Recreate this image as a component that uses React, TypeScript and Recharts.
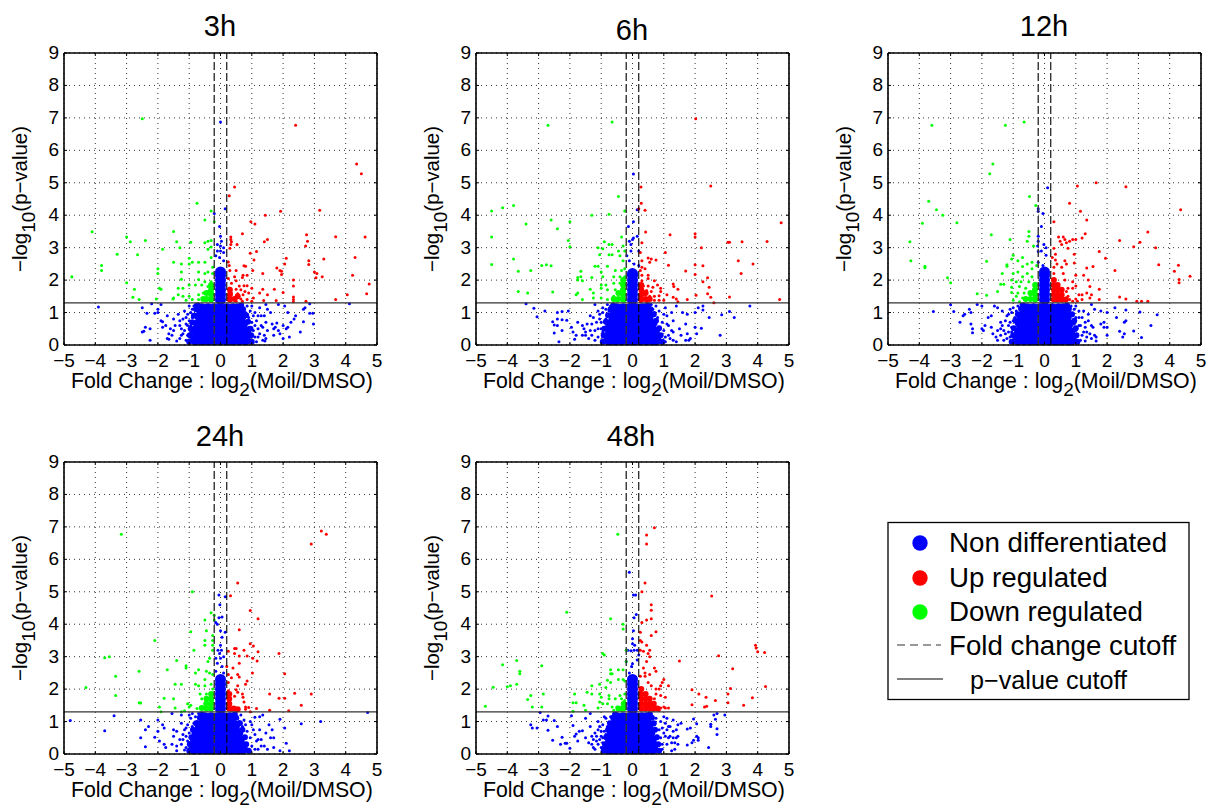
import React from "react";
import { ScatterChart, Scatter, XAxis, YAxis, CartesianGrid, ReferenceLine } from "recharts";

const FONT = "'Liberation Sans', Arial, sans-serif";
const xTicks = [-5, -4, -3, -2, -1, 0, 1, 2, 3, 4, 5];
const yTicks = [0, 1, 2, 3, 4, 5, 6, 7, 8, 9];
const foldCutoff = 0.2;
const pCutoff = 1.3;

const up3h = [2.4,6.77,4.35,5.58,4.5,5.28,.45,4.87,.28,4.6,3.17,4.15,1.92,4.12,1.43,4,.97,3.8,1.1,3.73,.7,3.43,2.75,3.4,3.68,3.34,4.62,3.33,.33,3.33,.33,3.25,.35,3.18,.33,3.1,1.5,3.25,1.4,3.18,2.78,3.2,.53,3.1,.3,2.98,2.72,3.05,1.15,2.88,.95,2.83,2.1,2.67,1.07,2.62,3.3,2.65,4.3,2.7,2.82,2.6,2.82,2.48,2.05,2.5,.25,2.56,.28,2.45,.75,2.44,.8,2.43,1.8,2.37,1.9,2.3,1.95,2.27,1.03,2.3,.5,2.3,.3,2.3,3,2.25,3.08,2.2,1.35,2.2,1.95,2.17,.72,2.15,.85,2.15,3.25,2.1,3.05,2.07,4.22,2.15,.45,2.1,.7,2.08,.25,2.05,2.33,2,.5,1.98,4.75,1.88,.35,1.9,.6,1.82,.75,1.83,.85,1.83,2.33,1.82,1,1.75,1.35,1.72,1.72,1.72,.3,1.75,.5,1.72,.65,1.7,.78,1.65,2,1.62,4.67,1.58,4.05,1.55,1.5,1.55,1.25,1.6,.35,1.6,.55,1.58,.72,1.55,.9,1.6,1.05,1.45,2.33,1.48,2.33,1.4,3.68,1.4,1.78,1.37,2.73,1.35,1.38,1.37,.25,1.45,.45,1.45,.65,1.42,.3,1.35,.5,1.35,.7,1.35,.85,1.4,1,1.35,2.33,1.33];
const down3h = [-2.5,6.97,-.75,4.37,-.3,4.13,-.2,3.8,-.5,3.85,-4.1,3.49,-1.5,3.5,-3,3.33,-2.4,3.22,-2.88,3.18,-1.4,3.18,-.95,3.17,-.4,3.2,-.3,3.22,-.5,3.15,-1.3,3,-.3,3.02,-.4,2.95,-1.85,2.95,-3.3,2.8,-2.65,2.78,-1,2.67,-3.8,2.45,-3.8,2.3,-4.75,2.1,-1.5,2.55,-1.25,2.5,-1,2.5,-.9,2.55,-.7,2.55,-.5,2.55,-.3,2.7,-.25,2.4,-2,2.35,-2,2.2,-1.25,2.25,-.7,2.25,-.5,2.2,-.4,2.25,-.25,2.2,-1.25,2.03,-.7,2.02,-.5,1.95,-.3,1.95,-3,1.92,-1.35,1.75,-1.2,1.75,-1,1.85,-.8,1.85,-.6,1.85,-.4,1.8,-.25,1.8,-1.95,1.75,-1.9,1.72,-2.75,1.72,-1.5,1.45,-2.8,1.47,-2.6,1.4,-2.05,1.42,-1.52,1.42,-1.35,1.55,-1.2,1.5,-1,1.5,-1.1,1.38,-.9,1.4,-.7,1.55,-.55,1.6,-.4,1.65,-.25,1.6,-.7,1.4,-.5,1.4,-.35,1.45,-.25,1.4];
const none3h = [0,6.87,-.2,4.05,.15,4.2,-.03,3.65,0,3.35,.03,3.2,-.1,3.1,0,3.05,.1,3,-.1,2.9,0,2.9,.1,2.85,-.15,2.75,-.03,2.7,.1,2.6,-3.9,1.17,4.12,1.27,2.85,1.27,-2.5,1.15,-2.2,1.27,-1.9,1.25,-2,1.1,-2.35,.98,-2.1,.98,-2,1,-1.7,.9,-1.9,.75,-2.45,.42,-2.5,.4,-2.4,.55,-2.25,.5,-2.25,.15,-1.85,.72,-1.85,.55,-1.7,.2,-1.65,.18,-1.5,.45,-1.55,.3,-1.45,.6,-1.5,.8,-1.35,.95,-1.3,.75,-1.25,.5,-1.3,.2,-1.4,.12,-1.2,.35,-1.15,1.05,-1.1,.85,-1.05,.6,-1,1.2,-1,.3,-.95,.15,-.9,1.1,1,1.2,1.1,1,1.15,.75,1.2,.5,1.2,.25,1.25,1.15,1.3,.9,1.35,.55,1.4,.3,1.45,1.25,1.42,.12,1.5,1.1,1.45,.7,1.5,.45,1.45,.2,1.6,1,1.4,.9,1.65,.65,1.7,.5,1.7,.3,1.8,.68,1.75,.55,1.85,.45,1.85,1.25,1.9,.35,2,.2,2.05,1.2,2,.6,2.1,.5,2.15,.55,2.15,1,2.25,.7,2.2,.25,2.4,.9,2.35,.8,2.55,.4,2.65,1.1,2.7,1.15,2.65,.72,2.85,.98,2.95,.98,2.97,.65];
const fringe3h = [-1.3,.6,-1.25,.3,-1.2,.8,-1.15,.45,-1.1,.15,-1.1,.65,-1.05,.95,-1.05,.3,-1,.5,-1,.75,-.95,1,-.95,.6,-.95,.4,-.9,.25,-.9,.85,-.85,.12,-.85,1.2,-.85,.55,-.8,.95,-.8,1.25,-.75,1.15,-.7,1.25,-1.6,.5,-1.65,.35,-1.75,.6,.7,1.25,.75,1.1,.8,1,.85,1.2,.85,.7,.9,.85,.9,.55,.95,1.05,.95,.3,1,.7,1,.12,1.05,.45,1.05,.9,1.1,.25,1.1,.6,1.15,.1,1.2,.9,1.25,.35,1.3,.6,1.35,.15];
const dense3h = [-.8,.16,-.6,.16,-.4,.16,-.2,.16,0,.16,.2,.16,.4,.16,.6,.16,.8,.16,-.75,.4,-.55,.4,-.35,.4,-.15,.4,.05,.4,.25,.4,.45,.4,.65,.4,.8,.4,-.7,.64,-.5,.64,-.3,.64,-.1,.64,.1,.64,.3,.64,.5,.64,.7,.64,-.65,.88,-.45,.88,-.25,.88,-.05,.88,.15,.88,.35,.88,.55,.88,.65,.88,-.6,1.12,-.4,1.12,-.2,1.12,0,1.12,.2,1.12,.4,1.12,.55,1.12,0,1.4,0,1.55,0,1.7,0,1.85,0,2,0,2.15,0,2.25];
const edge3h = [-1,.1,-.98,.3,-.95,.5,-.9,.7,-.85,.9,-.78,1.1,-.72,1.22,1,.1,.98,.3,.96,.5,.88,.72,.82,.92,.72,1.1,.66,1.22];
const denseUp3h = [.3,1.4,.3,1.55,.3,1.7,.45,1.42,.55,1.5];
const denseDown3h = [-.3,1.4,-.3,1.55,-.3,1.7,-.3,1.85,-.45,1.42,-.45,1.6,-.55,1.42];

const up6h = [2.02,6.97,2.5,4.9,.27,4.87,.28,4.37,.2,4.2,.4,4.15,4.75,3.77,.42,3.48,1.2,3.4,2,3.43,2,3.33,3.05,3.17,3.1,3.17,3.5,3.18,4.3,3.19,.3,3.15,2.2,3,1.05,2.85,.25,2.85,.5,2.68,.6,2.65,.75,2.62,.55,2.55,.3,2.6,3.38,2.6,3.85,2.5,2,2.47,2.25,2.44,1.15,2.46,.3,2.4,.4,2.35,.25,2.3,1.7,2.28,3.47,2.2,2,2.17,.5,2.15,.3,2.15,.5,2.05,2.4,2.07,.7,1.98,.3,1.98,.8,1.85,1.3,1.88,1.32,1.8,2.25,1.95,.35,1.82,.5,1.82,.65,1.78,.9,1.75,1.45,1.72,.3,1.68,.45,1.68,.6,1.65,.9,1.65,2.45,1.78,2.4,1.58,2.03,1.53,.25,1.55,.4,1.55,.55,1.5,.7,1.5,.85,1.52,1.1,1.55,3.1,1.48,2.5,1.47,1.3,1.47,1.4,1.42,.3,1.4,.5,1.38,.7,1.38,.85,1.38,.25,1.33,.45,1.33,1,1.38,1.45,1.33,1.75,1.4,2.6,1.3,4.7,1.4];
const down6h = [-2.7,6.77,-.65,6.87,-.45,4.58,-3.8,4.3,-4.15,4.23,-4.5,4.13,-.25,4.13,-1.3,4,-.75,4.03,-2.6,3.85,-2,3.8,-3.4,3.73,-2.4,3.58,-4.5,3.33,-.35,3.33,-2.05,3.22,-.9,3.18,-.75,3.1,-.65,3.1,-1.1,3,-.95,2.97,-2,3.03,-.3,3.05,-.25,2.9,-.45,2.9,-3.8,2.65,-4.5,2.48,-2.9,2.45,-2.75,2.47,-2.6,2.44,-1.05,2.78,-.75,2.78,-.65,2.78,-.4,2.75,-1.2,2.43,-1.1,2.43,-.8,2.43,-.3,2.6,-3.65,2.27,-3.25,2.3,-1.65,2.27,-1.3,2.08,-1,2.25,-.55,2.3,-.35,2.3,-.25,2.35,-1.75,2.08,-1.65,2.1,-1.6,1.98,-1.75,2,-.95,2.1,-.6,2.1,-.4,2.1,-.25,2.1,-1,1.85,-.85,1.85,-.6,1.9,-.4,1.9,-.25,1.9,-1,1.75,-.8,1.7,-.55,1.7,-.35,1.7,-.25,1.65,-1.35,1.72,-1.25,1.6,-3.65,1.65,-3.35,1.6,-2.55,1.63,-1.8,1.55,-1.75,1.6,-1.6,1.4,-1.25,1.45,-1,1.45,-.8,1.4,-.6,1.5,-.45,1.45,-.3,1.5,-.25,1.35,-.5,1.35];
const none6h = [.03,5.27,.03,3.8,-.13,3.65,.15,3.35,.15,4.17,0,3.25,-.1,3.2,-.05,3.1,.03,3.3,.2,2.9,-.05,2.9,-.18,2.75,-.1,2.6,.05,2.5,.2,2.45,-3.4,1.27,-3.15,1.13,-3.05,.87,-2.8,1.05,-2.4,1,-2.25,1.03,-2.05,1.05,-2.55,.72,-2.4,.8,-2.4,.6,-2.5,.62,-2.25,.78,-2.1,.76,-2.5,.37,-2.35,.1,-2.25,.45,-1.95,.55,-1.9,.4,-1.8,.3,-1.85,.18,-1.75,.7,-1.6,.6,-1.5,.4,-1.5,.3,-1.35,.9,-1.3,.65,-1.2,1.25,-1.2,.45,-1.2,.15,-1.1,1.05,-1.05,.8,-1,.5,-.95,.25,-.95,1.15,1.05,1.15,1.05,.1,1.1,.9,1.15,.6,1.15,.3,1.25,1,1.3,.75,1.3,.4,1.3,.15,1.4,1.2,1.4,.1,1.5,.5,1.55,.3,1.6,1,1.7,.65,1.7,.15,1.75,.95,1.75,.35,1.85,.2,1.8,.15,2,.55,2.05,.35,2,1,2.1,1.15,2.25,1.2,2.25,1.08,2.2,.52,2.45,.85,2.8,.3,2.85,.93,3.1,1.03,3.25,.85,3.75,1.2];
const fringe6h = [-1.6,.3,-1.55,.5,-1.45,.65,-1.4,.2,-1.35,.45,-1.3,.3,-1.25,.85,-1.15,.7,-1.1,.25,-1.1,.5,-1.05,.95,-1,.7,-.95,.4,-.95,1,-.9,.12,-.9,.55,-.85,.8,-.85,1.1,-.85,.3,-.8,1.25,-.75,1.05,-.7,1.2,.6,1.25,.65,1.1,.7,1,.75,1.2,.75,.65,.8,.85,.85,.55,.85,1.05,.9,.3,.95,.7,.95,.12,1,.45,1,.95,1.05,.25,1.1,.65,1.2,.2,1.25,.45];
const dense6h = [-.75,.16,-.55,.16,-.35,.16,-.15,.16,.05,.16,.25,.16,.45,.16,.65,.16,.75,.16,-.7,.4,-.5,.4,-.3,.4,-.1,.4,.1,.4,.3,.4,.5,.4,.7,.4,-.7,.64,-.5,.64,-.3,.64,-.1,.64,.1,.64,.3,.64,.5,.64,.6,.64,-.6,.88,-.4,.88,-.2,.88,0,.88,.2,.88,.4,.88,.5,.88,-.5,1.12,-.3,1.12,-.1,1.12,.1,1.12,.3,1.12,.4,1.12,0,1.4,0,1.55,0,1.7,0,1.85,0,2,0,2.15,0,2.2];
const edge6h = [-.95,.1,-.92,.3,-.9,.5,-.85,.72,-.78,.92,-.7,1.1,-.62,1.22,.95,.1,.9,.3,.85,.52,.75,.75,.68,.95,.58,1.1,.5,1.22];
const denseUp6h = [.28,1.4,.28,1.55,.28,1.7,.28,1.85,.42,1.42,.42,1.6,.55,1.42];
const denseDown6h = [-.3,1.4,-.3,1.55,-.3,1.7,-.3,1.85,-.3,2,-.45,1.42,-.45,1.6,-.6,1.42];

const up12h = [1.05,4.9,1.65,5,2.6,4.88,.8,4.37,4.35,4.17,1.15,4.12,1.35,3.85,.3,3.8,1.3,3.43,3.3,3.48,.45,3.33,.6,3.33,.65,3.25,.5,3.2,.7,3.15,.8,3.2,.9,3.25,1,3.25,1.2,3.3,2.4,3.22,3.05,3.17,2.85,3.03,3.55,3,.55,3.1,.75,2.98,.3,2.98,1.75,2.88,.95,2.8,.35,2.8,.25,2.7,.35,2.62,.65,2.6,1.95,2.67,3.65,2.47,4.28,2.46,.4,2.5,.7,2.5,.95,2.53,1.55,2.42,1.35,2.37,.3,2.4,.55,2.4,4.15,2.27,2.25,2.3,.3,2.2,.6,2.2,1,2.15,1.25,2.15,4.65,2.12,4.3,2.02,4.3,1.92,1.4,2,.9,1.95,.65,2,1.45,1.8,1.75,1.72,1,1.82,.9,1.75,1.35,1.6,1.5,1.55,1.2,1.55,1.1,1.55,1.75,1.4,1.45,1.45,2.4,1.48,2.6,1.42,1,1.42,1.2,1.4,2.95,1.35,3.1,1.35,3.3,1.35,.9,1.35,1.05,1.35,.75,1.5,.8,1.4,.7,1.65,.75,1.75];
const down12h = [-3.6,6.77,-1.25,6.77,-.65,6.87,-1.65,5.58,-1.75,5.28,-.48,4.58,-3.7,4.43,-3.45,4.17,-3.25,4,-3.9,3.75,-2.8,3.77,-.28,4.3,-.5,3.5,-1.7,3.4,-1.1,3.25,-.5,3.35,-.55,3.2,-4.3,3.18,-.35,3.05,-4.27,2.6,-3.82,2.43,-3.82,2.38,-1.85,2.58,-1,2.77,-.7,2.7,-1.05,2.65,-.85,2.6,-1.2,2.47,-1.2,2.43,-.7,2.42,-.55,2.5,-.4,2.55,-.25,2.45,-.4,2.35,-3.1,2.07,-3,1.92,-1.35,2.2,-1,2.2,-.85,2.25,-.7,2.1,-.55,2.2,-.4,2.1,-1.4,1.87,-1.3,1.87,-1.05,2,-.9,1.95,-.75,1.95,-.5,1.95,-.3,1.9,-1.05,1.78,-.8,1.8,-.6,1.75,-.35,1.7,-1.5,1.65,-2.15,1.58,-1.85,1.53,-1.05,1.62,-.85,1.6,-.65,1.6,-.45,1.55,-.25,1.55,-1,1.38,-.7,1.45,-.5,1.4,-.3,1.4,-.9,1.5,-.8,1.33];
const none12h = [.1,4.85,-.2,4.2,-.2,4.12,-.05,4.05,-.1,3.65,-.2,3.35,-.2,3.2,-.02,3.1,.05,3,-.22,3.05,-.2,2.88,-.1,2.9,.05,2.77,-.2,2.55,-.05,2.45,-3,1.24,-3.55,1.03,-2.9,1.03,-2.55,.95,-2.6,.9,-2.4,1.1,-2.35,1,-2.7,.7,-2.35,.65,-2.3,.5,-2.3,.38,-2.15,1.25,-2,1.2,-2,.5,-1.95,.45,-1.9,.6,-1.8,.85,-1.7,.9,-1.7,.55,-1.65,.35,-1.6,1.2,-1.5,1.15,-1.55,.25,-1.5,.15,-1.4,.7,-1.4,.5,-1.35,1.05,-1.3,.15,-1.25,.35,-1.2,.9,-1.15,.6,-1.1,1.1,-1.05,.1,-1,1.15,-1.05,.4,-1,.75,1,1.2,1.05,.1,1.1,.85,1.15,.6,1.2,.3,1.25,1.05,1.3,.7,1.35,.4,1.3,.12,1.4,.95,1.5,1.25,1.55,.55,1.6,.3,1.6,1.1,1.65,.12,1.65,.25,1.8,.65,1.8,1.05,1.9,.7,1.9,.55,2,1,2,.3,2,.55,2.25,1.15,2.3,.85,2.4,.42,2.5,.25,2.55,.7,2.55,.35,2.6,.75,2.6,1.08,2.85,.43,3.05,1.02,3.1,.23,3.4,.6,3.6,.93];
const fringe12h = [-1.5,.45,-1.4,.3,-1.35,.6,-1.3,.45,-1.25,.75,-1.2,.2,-1.15,.4,-1.15,.95,-1.1,.7,-1.1,.25,-1.05,.55,-1.05,1,-1,.3,-1,.55,-.95,.85,-.95,.12,-.9,1.05,-.9,.65,-.85,1.2,-.85,.85,-.75,1.25,-.75,1.05,.75,1.25,.8,1.05,.85,1.2,.9,.9,.95,.65,.95,1.1,1,.45,1,.85,1.05,.3,1.1,.6,1.1,1.05,1.15,.15,1.2,.85,1.25,.4,1.3,.55,1.35,.25,1.4,.75,1.45,.35,1.5,.6,1.5,.2];
const dense12h = [-.85,.16,-.65,.16,-.45,.16,-.25,.16,-.05,.16,.15,.16,.35,.16,.55,.16,.75,.16,.85,.16,-.8,.4,-.6,.4,-.4,.4,-.2,.4,0,.4,.2,.4,.4,.4,.6,.4,.8,.4,-.75,.64,-.55,.64,-.35,.64,-.15,.64,.05,.64,.25,.64,.45,.64,.65,.64,.75,.64,-.7,.88,-.5,.88,-.3,.88,-.1,.88,.1,.88,.3,.88,.5,.88,.7,.88,-.55,1.12,-.35,1.12,-.15,1.12,.05,1.12,.25,1.12,.45,1.12,.6,1.12,0,1.4,0,1.55,0,1.7,0,1.85,0,2,0,2.15,0,2.25];
const edge12h = [-1.05,.1,-1,.3,-.98,.52,-.92,.75,-.85,.95,-.75,1.12,-.68,1.22,1.05,.1,1.02,.3,1,.52,.95,.75,.88,.95,.78,1.12,.72,1.22];
const denseUp12h = [.3,1.4,.3,1.55,.3,1.7,.3,1.85,.3,2,.42,1.4,.42,1.55,.42,1.7,.42,1.85,.55,1.4,.55,1.55,.55,1.7,.68,1.4];
const denseDown12h = [-.3,1.4,-.3,1.55,-.3,1.7,-.3,1.85,-.45,1.42,-.45,1.6,-.6,1.42];

const up24h = [3.22,6.87,3.38,6.77,2.9,6.47,.55,5.27,.32,4.88,.95,4.42,1.2,4.17,.6,3.83,.95,3.4,1.05,3.33,.25,3.17,.45,3.25,.5,3.25,.75,3.2,1.2,3.15,1.87,3.1,.45,3.1,.6,3.02,.85,3.02,1.03,2.95,1.17,2.87,.2,2.7,.4,2.65,.6,2.8,1.02,2.5,2.05,2.47,.25,2.45,.35,2.35,.55,2.45,.6,2.37,.85,2.25,.8,2.15,.25,2.2,.55,2.1,.5,1.98,.25,1.95,.3,1.85,.55,1.9,.7,1.85,.72,1.75,.45,1.78,1.57,1.85,2.37,1.87,2.9,1.85,1.87,1.72,2.05,1.72,.3,1.7,.75,1.6,.8,1.45,.9,1.43,2.58,1.5,.8,1.38,1.15,1.4,1.57,1.35,2.18,1.33,.95,1.3,.25,1.4,.35,1.35,.45,1.4,.55,1.33,.3,1.5,.25,1.6];
const down24h = [-3.17,6.77,-.9,5,-.3,4.35,-.2,4.28,-.5,4.13,-.2,4.13,-.95,3.77,-.45,3.8,-2.1,3.5,-.25,3.65,-.5,3.5,-.25,3.5,-.5,3.35,-.25,3.35,-.25,3.2,-.85,3.2,-3.7,2.97,-3.55,3,-.35,2.95,-.4,2.85,-1.4,2.88,-1.1,2.72,-1.1,2.65,-1.7,2.6,-2.6,2.55,-.7,2.6,-.8,2.5,-.45,2.55,-.35,2.5,-.25,2.45,-.5,2.3,-3.35,2.4,-1.45,2.15,-1.25,2.15,-.8,2.15,-4.3,2.05,-.7,2.1,-.5,2.1,-.3,2.15,-.25,2,-3.35,1.8,-.65,1.85,-.45,1.85,-.3,1.85,-1.8,1.72,-1.5,1.7,-.6,1.7,-.35,1.7,-.25,1.65,-2.6,1.58,-2.55,1.57,-1.45,1.42,-1.05,1.55,-1,1.45,-.95,1.5,-.75,1.4,-.5,1.55,-.4,1.4,-.25,1.4,-1.95,1.45,-1.9,1.3,-1.25,1.3,-1.15,1.33,-.6,1.45,-.3,1.5];
const none24h = [-.05,4.9,.15,4.85,-.02,4.6,-.05,4.2,.05,4.22,-.15,4.05,-.1,4,.15,3.75,0,3.8,.05,3.6,0,3.35,.03,3.2,-.08,3.2,-.03,3.1,.1,3,-.15,2.95,0,2.95,-.1,2.8,.05,2.7,-.15,2.55,.1,2.5,-4.8,1.03,-3.4,1.18,-3.7,.72,-2.55,1.05,-2.3,.85,-2.4,.75,-2.55,.5,-2.4,.22,-2.1,.52,-2,1.05,-2,.7,-1.95,.4,-1.85,.9,-1.8,.8,-1.8,.3,-1.75,.2,-1.55,1.25,-1.5,.75,-1.5,.55,-1.55,.3,-1.4,.7,-1.4,.25,-1.3,.45,-1.4,.1,-1.25,1.2,-1.25,.95,-1.2,.6,-1.15,.12,-1.1,.8,-1.05,.4,-1,1.2,-1,.15,.95,.1,1,.9,1.1,1.13,1.1,.6,1.15,.4,1.2,.15,1.25,1.15,1.25,.75,1.3,.45,1.35,1.2,1.4,.25,1.45,.65,1.5,.15,1.55,.9,1.6,.5,1.65,.75,1.7,.2,1.7,.5,1.9,.1,1.9,1.07,2.05,.8,2.1,.33,2.2,.1,2.58,.93,3.2,1,4.7,1.28];
const fringe24h = [-1.25,.3,-1.2,.45,-1.15,.75,-1.1,.55,-1.1,.2,-1.05,.9,-1,.65,-1,.35,-.95,1.1,-.95,.5,-.9,.85,-.9,.15,-.9,1.25,-.85,.65,-.85,.95,-.8,1.15,-.75,1,-.7,1.25,.5,1.25,.55,1.1,.6,1,.65,1.2,.7,.85,.75,1.05,.75,.55,.8,.9,.85,.3,.85,.7,.9,.12,.95,.5,.95,1,1,.25,1.05,.75,1.1,.15,1.2,.45,1.3,.25];
const dense24h = [-.85,.16,-.65,.16,-.45,.16,-.25,.16,-.05,.16,.15,.16,.35,.16,.55,.16,.7,.16,-.8,.4,-.6,.4,-.4,.4,-.2,.4,0,.4,.2,.4,.4,.4,.6,.4,-.75,.64,-.55,.64,-.35,.64,-.15,.64,.05,.64,.25,.64,.45,.64,.55,.64,-.65,.88,-.45,.88,-.25,.88,-.05,.88,.15,.88,.35,.88,.45,.88,-.5,1.12,-.3,1.12,-.1,1.12,.1,1.12,.3,1.12,0,1.4,0,1.55,0,1.7,0,1.85,0,2,0,2.15,0,2.3];
const edge24h = [-1,.1,-.98,.3,-.93,.52,-.88,.75,-.78,.95,-.66,1.12,-.6,1.22,.9,.1,.82,.3,.78,.52,.7,.75,.62,.95,.5,1.12,.45,1.22];
const denseUp24h = [.28,1.4,.28,1.55,.28,1.7,.28,1.85,.42,1.4,.55,1.38];
const denseDown24h = [-.3,1.4,-.3,1.55,-.3,1.7,-.3,1.85,-.45,1.4,-.45,1.55,-.45,1.7,-.6,1.42];

const up48h = [.7,6.97,.45,6.75,.45,6.47,.4,5.27,.3,5,2.53,4.87,.6,4.6,.6,4.43,.6,4.17,.45,4.13,.3,4.05,.75,3.77,.25,3.75,.6,3.65,.25,3.5,.3,3.45,.45,3.35,.55,3.2,.25,3.2,.35,3.17,3.93,3.35,3.95,3.27,4,3.15,4.22,3.13,.5,3.1,.55,3,2.75,3.03,.45,2.85,1.5,2.87,.35,2.65,.7,2.65,.75,2.55,3.2,2.63,.4,2.5,.55,2.45,.25,2.4,.4,2.4,1,2.3,.95,2.2,.9,2.1,1.15,2.1,4.25,2.08,3.13,2.02,.75,2,.85,2,1.9,1.98,3.05,1.85,2.12,1.85,.75,1.85,.9,1.8,1.05,1.75,2.35,1.75,3.83,1.73,.7,1.7,2.65,1.65,3.05,1.58,1.9,1.52,3.55,1.5,2.37,1.47,2.3,1.45,1,1.45,1.05,1.42,1.15,1.42,.65,1.55,.75,1.45,.9,1.42,.85,1.35,.65,1.35,.6,2.1,.5,2.2];
const down48h = [-.47,6.77,-2.1,4.37,-.7,4.17,-.3,4,-.3,3.85,-.95,3.1,-.9,3.05,-.2,3.2,-.2,2.85,-3.7,2.88,-4.15,2.75,-2.9,2.72,-3.6,2.55,-3.6,2.47,-.7,2.6,-.45,2.6,-.65,2.47,-.7,2.47,-.3,2.6,-.8,2.27,-.7,2.2,-.45,2.3,-.3,2.3,-3.7,2.15,-4,2.07,-3.9,2.1,-4.45,2.06,-1.3,2.1,-1.05,2.15,-.85,2.05,-.25,2.25,-1.45,1.9,-1.3,1.85,-1.05,1.85,-1.85,1.85,-2.85,1.85,-3.25,1.8,-3.35,1.68,-1,1.75,-.75,1.8,-.4,1.8,-.25,1.85,-.75,1.7,-.55,1.7,-.35,1.7,-.25,1.65,-1.05,1.6,-.95,1.55,-.8,1.55,-1.8,1.58,-1.9,1.58,-1.55,1.5,-1.1,1.42,-4.7,1.47,-3.2,1.45,-2.9,1.45,-1.5,1.35,-1.9,1.32,-.65,1.45,-.5,1.45,-.35,1.45,-.25,1.5,-.6,1.35,-.35,1.35];
const none48h = [-.1,5.6,.03,4.9,.1,4.9,.12,4.3,.05,4.2,.03,3.8,0,3.55,0,3.4,.07,3.35,.05,3.2,-.15,3.2,-.05,3.18,.15,3.2,.2,3.05,.15,2.9,-.2,2.85,0,2.78,-.03,2.7,-.1,2.5,-2.95,1.28,-2.85,1.05,-2.75,1.05,-2.7,1.17,-2.5,1.03,-3.2,.8,-3.25,.9,-3.05,.8,-2.4,.85,-2.7,.73,-2.55,.42,-2.3,.3,-2.25,.52,-2.15,.33,-2.1,.33,-2,.18,-1.95,1.18,-1.9,.88,-1.85,.55,-1.8,.62,-1.75,.4,-1.7,.7,-1.6,.72,-1.5,1.1,-1.5,.5,-1.4,.35,-1.35,.85,-1.35,1.25,-1.3,.55,-1.25,.2,-1.2,.65,-1.15,.4,-1.1,1,-1.05,.85,-1,.55,-.95,.2,-.9,.7,-.95,.35,-.85,1.1,-.9,1.15,.95,.15,1,1.15,.95,.8,1.05,.55,1.1,1.1,1.1,.3,1.15,.85,1.2,.55,1.25,.1,1.3,1.05,1.3,.7,1.35,.35,1.45,.9,1.45,.55,1.45,.3,1.55,.95,1.75,.28,1.75,.77,1.85,.8,1.95,.42,1.9,.35,1.95,1.08,2.05,.55,2.1,.5,2.05,.93,2.1,.42,2.43,.2,2.5,.85,2.5,.92,2.6,1.2,2.65,1.07,2.7,1.25,2.7,.78,2.7,.6,2.95,1.2];
const fringe48h = [-1.3,.3,-1.25,.45,-1.2,.15,-1.15,.55,-1.1,.3,-1.1,.75,-1.05,.45,-1,.2,-1,.7,-.95,.5,-.95,.9,-.9,.3,-.85,.6,-.85,.12,-.8,.85,-.8,.45,-.75,.98,-.75,.7,-.7,1.15,-.65,1,-.6,1.25,.6,1.25,.65,1.1,.7,.9,.75,1.1,.8,.55,.85,.75,.85,.3,.9,.5,.9,1,.95,.3,1,.65,1.05,.95,1.1,.75,1.15,.5,1.2,.85,1.25,.35,1.3,.5,1.35,.15,1.4,.5,1.4,.75];
const dense48h = [-.75,.16,-.55,.16,-.35,.16,-.15,.16,.05,.16,.25,.16,.45,.16,.65,.16,-.7,.4,-.5,.4,-.3,.4,-.1,.4,.1,.4,.3,.4,.5,.4,.6,.4,-.65,.64,-.45,.64,-.25,.64,-.05,.64,.15,.64,.35,.64,.55,.64,-.6,.88,-.4,.88,-.2,.88,0,.88,.2,.88,.4,.88,.5,.88,-.5,1.12,-.3,1.12,-.1,1.12,.1,1.12,.3,1.12,.45,1.12,0,1.4,0,1.55,0,1.7,0,1.85,0,2,0,2.15,0,2.3];
const edge48h = [-.92,.1,-.88,.3,-.84,.52,-.78,.75,-.72,.95,-.62,1.12,-.55,1.22,.85,.1,.82,.3,.78,.52,.72,.75,.68,.95,.62,1.12,.55,1.22];
const denseUp48h = [.28,1.4,.28,1.55,.28,1.7,.28,1.85,.28,2,.42,1.4,.42,1.55,.42,1.7,.42,1.85,.55,1.4,.55,1.55,.55,1.7,.68,1.4,.68,1.55,.8,1.4];
const denseDown48h = [-.28,1.4,-.28,1.55,-.45,1.4];

const pairs = (flat: number[]) => {
  const out: { x: number; y: number }[] = [];
  for (let i = 0; i < flat.length; i += 2) out.push({ x: flat[i], y: flat[i + 1] });
  return out;
};

const PW = 313;
const PH = 292;
const ML = 50;
const MT = 10;

const panels = [
  { title: "3h", x0: 64, y0: 53, tx: 220, ty: 36, none: none3h, fringe: fringe3h, edge: edge3h, dense: dense3h, up: up3h, denseUp: denseUp3h, down: down3h, denseDown: denseDown3h },
  { title: "6h", x0: 476, y0: 53, tx: 632, ty: 40, none: none6h, fringe: fringe6h, edge: edge6h, dense: dense6h, up: up6h, denseUp: denseUp6h, down: down6h, denseDown: denseDown6h },
  { title: "12h", x0: 888, y0: 53, tx: 1044, ty: 36, none: none12h, fringe: fringe12h, edge: edge12h, dense: dense12h, up: up12h, denseUp: denseUp12h, down: down12h, denseDown: denseDown12h },
  { title: "24h", x0: 64, y0: 462, tx: 220, ty: 446, none: none24h, fringe: fringe24h, edge: edge24h, dense: dense24h, up: up24h, denseUp: denseUp24h, down: down24h, denseDown: denseDown24h },
  { title: "48h", x0: 476, y0: 462, tx: 631, ty: 446, none: none48h, fringe: fringe48h, edge: edge48h, dense: dense48h, up: up48h, denseUp: denseUp48h, down: down48h, denseDown: denseDown48h },
];

const dot = (color: string, r: number) => (p: any) => <circle cx={p.cx} cy={p.cy} r={r} fill={color} />;

const XTick = (p: any) => (
  <g>
    <line x1={p.x} x2={p.x} y1={MT + PH} y2={MT + PH - 3} stroke="#000" />
    <line x1={p.x} x2={p.x} y1={MT} y2={MT + 3} stroke="#000" />
    <text x={p.x} y={MT + PH + 22} textAnchor="middle" fontSize={19} fontFamily={FONT} fill="#000">
      {String(p.payload.value).replace("-", "\u2212")}
    </text>
  </g>
);
const YTick = (p: any) => (
  <g>
    <line x1={ML} x2={ML + 3} y1={p.y} y2={p.y} stroke="#000" />
    <line x1={ML + PW} x2={ML + PW - 3} y1={p.y} y2={p.y} stroke="#000" />
    <text x={ML - 5} y={p.y + 6} textAnchor="end" fontSize={19} fontFamily={FONT} fill="#000">
      {p.payload.value}
    </text>
  </g>
);

const overlay: any = { zIndex: 2000 };

function Panel({ d }: { d: (typeof panels)[number] }) {
  return (
    <div style={{ position: "absolute", left: d.x0 - ML, top: d.y0 - MT }}>
      <ScatterChart width={ML + PW + 10} height={MT + PH + 30} margin={{ top: MT, right: 10, left: 0, bottom: 0 }}>
        <CartesianGrid stroke="#333" strokeDasharray="1 4" />
        <XAxis type="number" dataKey="x" domain={[-5, 5]} ticks={xTicks} interval={0} height={30} axisLine={false} tickLine={false} tick={XTick} />
        <YAxis type="number" dataKey="y" domain={[0, 9]} ticks={yTicks} interval={0} width={ML} axisLine={false} tickLine={false} tick={YTick} />
        <Scatter data={pairs(d.none)} isAnimationActive={false} shape={dot("#0000ff", 1.5)} />
        <Scatter data={pairs(d.fringe)} isAnimationActive={false} shape={dot("#0000ff", 1.5)} />
        <Scatter data={pairs(d.edge)} isAnimationActive={false} shape={dot("#0000ff", 3)} />
        <Scatter data={pairs(d.dense)} isAnimationActive={false} shape={dot("#0000ff", 5.5)} />
        <Scatter data={pairs(d.up)} isAnimationActive={false} shape={dot("#ff0000", 1.5)} />
        <Scatter data={pairs(d.denseUp)} isAnimationActive={false} shape={dot("#ff0000", 3)} />
        <Scatter data={pairs(d.down)} isAnimationActive={false} shape={dot("#00ff00", 1.5)} />
        <Scatter data={pairs(d.denseDown)} isAnimationActive={false} shape={dot("#00ff00", 3)} />
        <ReferenceLine {...overlay} x={-foldCutoff} stroke="#333" strokeWidth={1.4} strokeDasharray="8 3" />
        <ReferenceLine {...overlay} x={foldCutoff} stroke="#000" strokeWidth={1.1} strokeDasharray="8 3" />
        <ReferenceLine {...overlay} y={pCutoff} stroke="#333" strokeWidth={1.3} />
        <ReferenceLine {...overlay} x={-5} stroke="#000" strokeWidth={1.6} />
        <ReferenceLine {...overlay} x={5} stroke="#000" strokeWidth={1.6} />
        <ReferenceLine {...overlay} y={0} stroke="#000" strokeWidth={1.6} />
        <ReferenceLine {...overlay} y={9} stroke="#000" strokeWidth={1.6} />
      </ScatterChart>
    </div>
  );
}

const legendDots = [
  { label: "Non differentiated", color: "#0000ff", cy: 543, by: 552 },
  { label: "Up regulated", color: "#ff0000", cy: 578, by: 587 },
  { label: "Down regulated", color: "#00ff00", cy: 612, by: 621 },
];

export default function App() {
  return (
    <div style={{ position: "absolute", left: 0, top: 0, width: 1211, height: 809, background: "#fff", overflow: "hidden" }}>
      {panels.map((d) => (
        <Panel key={d.title} d={d} />
      ))}
      <svg width={1211} height={809} style={{ position: "absolute", left: 0, top: 0, pointerEvents: "none" }} fontFamily={FONT}>
        {panels.map((d) => (
          <g key={d.title} fill="#000">
            <text x={d.tx} y={d.ty} textAnchor="middle" fontSize={29}>{d.title}</text>
            <text x={d.x0 + 7} y={d.y0 + PH + 43} fontSize={21.3}>
              Fold Change : log
              <tspan dy={8} fontSize={19}>2</tspan>
              <tspan dy={-8}>(Moil/DMSO)</tspan>
            </text>
            <text
              transform={`translate(${d.x0 - 37},${d.y0 + PH / 2}) rotate(-90)`}
              textAnchor="middle"
              fontSize={20.4}
            >
              {"\u2212log"}
              <tspan dy={8} fontSize={19}>10</tspan>
              <tspan dy={-8}>{"(p\u2212value)"}</tspan>
            </text>
          </g>
        ))}
        <rect x={888} y={522.5} width={301} height={177} fill="#fff" stroke="#000" strokeWidth={1.3} />
        {legendDots.map((l) => (
          <g key={l.label}>
            <circle cx={920} cy={l.cy} r={7.7} fill={l.color} />
            <text x={949} y={l.by} fontSize={27.7}>{l.label}</text>
          </g>
        ))}
        <line x1={897} x2={941} y1={645} y2={645} stroke="#777" strokeWidth={1.4} strokeDasharray="8 5" />
        <text x={949} y={655} fontSize={27.7}>Fold change cutoff</text>
        <line x1={897} x2={943} y1={679} y2={679} stroke="#000" strokeWidth={1.1} />
        <text x={970} y={689} fontSize={25.2}>{"p\u2212value cutoff"}</text>
      </svg>
    </div>
  );
}
